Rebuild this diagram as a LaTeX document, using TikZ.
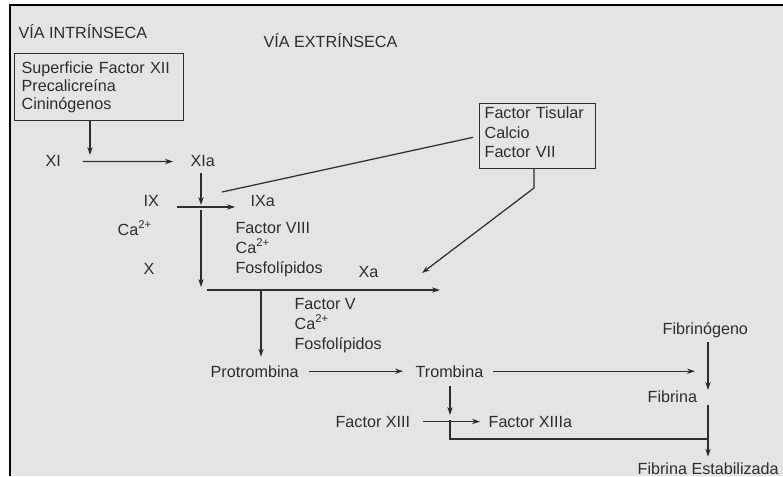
\documentclass[tikz,border=0pt]{standalone}
\usepackage{fontspec}
\setmainfont{Liberation Sans}
\usetikzlibrary{arrows.meta}
\definecolor{ink}{RGB}{45,45,45}
\definecolor{paper}{RGB}{228,228,228}
\begin{document}
\begin{tikzpicture}[x=0.02cm,y=-0.02cm,font=\fontsize{9.2}{11}\selectfont,
  >={Stealth[length=4.5pt,width=3pt]},ink,line width=0.7pt,
  lbl/.style={inner sep=0pt,anchor=base west},
  blk/.style={inner sep=0pt,anchor=north west,align=left,font=\fontsize{9.2}{11.3}\selectfont},
  box/.style={draw,anchor=north west,align=left,inner ysep=0pt}]
\useasboundingbox (0,0) rectangle (783,476);
\fill[white] (0,0) rectangle (783,476);
\fill[paper] (10,5) rectangle (783,476);
\draw[black,line width=1.2pt] (10,476) -- (10,5) -- (783,5);
\node[lbl] (vi) at (18,39) {VÍA INTRÍNSECA};
\node[lbl] (ve) at (263,48) {VÍA EXTRÍNSECA};
\node[box,minimum width=3.38cm,minimum height=1.34cm,text width=3.1cm,inner xsep=0.14cm,
  font=\fontsize{9.2}{10.3}\selectfont] (contact) at (14,53) {Superficie Factor XII\\Precalicreína\\Cininógenos};
\node[box,text width=2.12cm,inner xsep=0.1cm,inner ysep=0.07cm,
  font=\fontsize{9.2}{11}\selectfont] (tf) at (479,103) {Factor Tisular\\Calcio\\Factor VII\rule[-0.15cm]{0pt}{0pt}};
\node[lbl] (xi) at (45,167) {XI};
\node[lbl] (xia) at (190,167) {XIa};
\node[lbl] (ix) at (143,206) {IX};
\node[lbl] (ixa) at (250,206) {IXa};
\node[lbl] (ca) at (117,235) {Ca\textsuperscript{2+}};
\node[lbl] (fx) at (143,274) {X};
\node[blk] (f8) at (235,222) {Factor VIII\\Ca\textsuperscript{2+}\\Fosfolípidos};
\node[lbl] (xa) at (358,277) {Xa};
\node[blk] (f5) at (294,298) {Factor V\\Ca\textsuperscript{2+}\\Fosfolípidos};
\node[lbl] (pro) at (210,377) {Protrombina};
\node[lbl] (tro) at (415,377) {Trombina};
\node[lbl] (fgn) at (662,334) {Fibrinógeno};
\node[lbl] (fib) at (647,402) {Fibrina};
\node[lbl] (f13) at (335,427) {Factor XIII};
\node[lbl] (f13a) at (488,427) {Factor XIIIa};
\node[lbl] (fe) at (637,474) {Fibrina Estabilizada};
\coordinate (k1) at (90,155);
\coordinate (k2) at (201,207);
\coordinate (k3) at (201,290);
\coordinate (k4) at (440,290);
\coordinate (k5) at (222,192);
\coordinate (k6) at (534,188);
\coordinate (k7) at (422,273);
\coordinate (k8) at (261,290);
\coordinate (k10) at (695,372);
\coordinate (k11) at (708,390);
\coordinate (k12) at (708,439);
\coordinate (k13) at (450,420);
\draw[->] (contact.south -| k1) -- (k1);
\draw[->,shorten <=0.43cm,shorten >=0.34cm] (xi) -- (xia);
\draw[->,shorten <=0.1cm,shorten >=0.04cm] (xia.south -| k2) -- (k2);
\draw[->,shorten <=0.35cm,shorten >=0.3cm] (ix.base east |- k2) -- (ixa.base west |- k2);
\draw[->,shorten <=0.06cm,shorten >=0.06cm] (k2) -- (k3);
\draw[->,shorten <=0.12cm] (k3) -- (k4);
\draw[shorten >=0.12cm] (k5) -- (tf.west);
\draw[->] (k6 |- tf.south) -- (k6) -- (k7);
\draw[->,shorten >=0.16cm] (k8) -- (k8 |- pro.north);
\draw[->,shorten <=0.2cm,shorten >=0.24cm] (pro) -- (tro);
\draw[->,shorten <=0.18cm] (tro.east) -- (tro.east -| k10);
\draw[->,shorten <=0.09cm] (fgn.south -| k11) -- (k11);
\draw[->,shorten <=0.3cm,shorten >=0.1cm] (k11) -- (k11 |- fe.north);
\draw[->,shorten <=0.16cm,shorten >=0.1cm] (tro.south -| k13) -- (k13);
\draw (k13) -- (k13 |- k12) -- (k12);
\draw[->,shorten <=0.24cm,shorten >=0.16cm] (f13) -- (f13a);
\end{tikzpicture}
\end{document}
